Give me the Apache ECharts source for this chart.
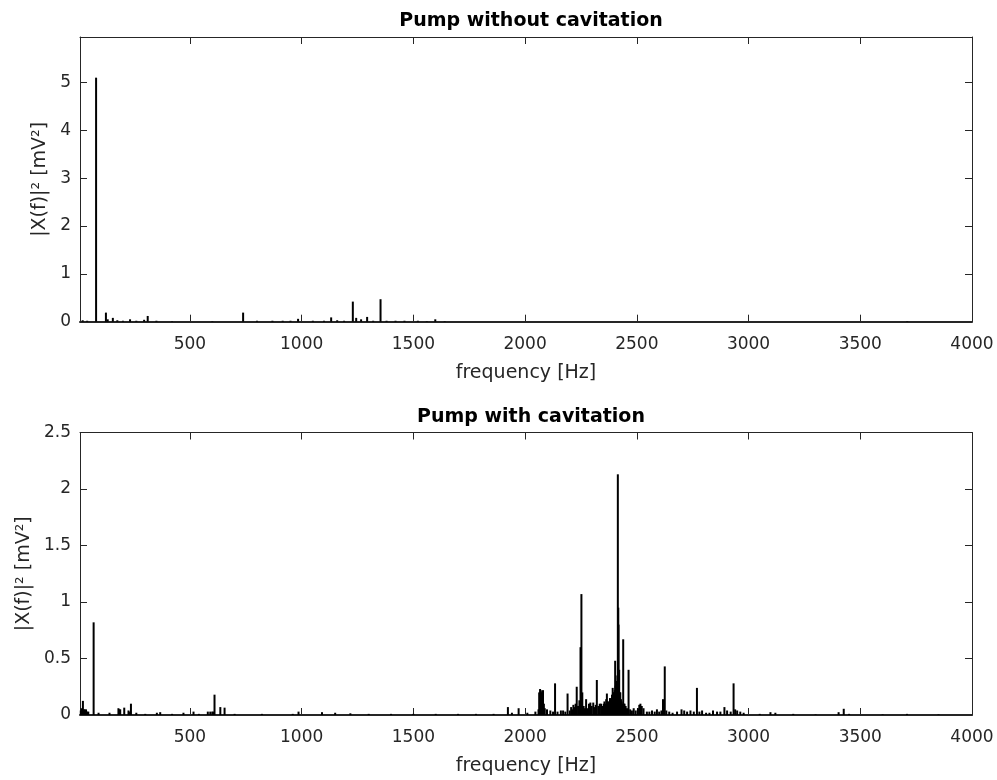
<!DOCTYPE html>
<html>
<head>
<meta charset="utf-8">
<title>Pump spectra</title>
<script src="https://cdn.jsdelivr.net/npm/echarts@6.0.0/dist/echarts.min.js"></script>
<style>
  html, body { margin: 0; padding: 0; background: #fff; }
  #box { width: 997px; height: 780px; }
</style>
</head>
<body>
<div id="box"></div>
<script>
// pump without cavitation: spike frequencies [Hz] and |X(f)|^2 [mV^2]
var freqNoCav = [20, 40, 80, 124, 132, 155, 175, 200, 232, 260, 295, 311, 350, 420,
    600, 738, 800, 869, 915, 950, 984, 1050, 1100, 1132, 1159, 1190, 1229, 1244,
    1266, 1293, 1320, 1353, 1380, 1420, 1460, 1520, 1560, 1598, 1640, 3710];
var ampNoCav = [0.03, 0.02, 5.1, 0.19, 0.05, 0.08, 0.03, 0.02, 0.05, 0.02, 0.04, 0.12, 0.02, 0.01,
    0.01, 0.19, 0.02, 0.02, 0.02, 0.02, 0.06, 0.02, 0.02, 0.09, 0.03, 0.02, 0.42, 0.08,
    0.05, 0.1, 0.02, 0.47, 0.02, 0.02, 0.02, 0.02, 0.01, 0.05, 0.01, 0.01];

// pump with cavitation
var freqCav = [10, 15, 21, 25, 28, 32, 35, 40, 45, 69, 91, 140, 180, 184, 188, 206, 225, 232, 236, 260, 300, 352, 367,
    420, 471, 516, 540, 580, 591, 600, 605, 610, 636, 655, 700, 822, 960, 986, 1091, 1150,
    1218, 1300, 1400, 1500, 1600, 1700, 1780, 1859, 1923, 1941, 1971, 2010, 2046,
    2060, 2063, 2067, 2070, 2074, 2077, 2080, 2084, 2088, 2098, 2113, 2125, 2134, 2145, 2160, 2170, 2180,
    2190, 2200, 2206, 2210, 2216, 2220, 2226, 2231, 2237, 2243, 2248, 2252, 2256, 2262, 2268,
    2273, 2280, 2286, 2292, 2298, 2305, 2312, 2316, 2321, 2328, 2334, 2340, 2344, 2348, 2352, 2355,
    2360, 2363, 2366, 2369, 2372, 2376, 2380, 2383, 2386, 2389, 2392, 2395, 2398, 2401, 2403, 2405, 2407, 2409,
    2411, 2413, 2415, 2417, 2418, 2421, 2424, 2426, 2429, 2432, 2436, 2439, 2442, 2445, 2450, 2456, 2463, 2470, 2478,
    2486, 2495, 2505, 2511, 2516, 2522, 2530, 2545, 2556, 2568, 2580, 2590, 2600, 2610, 2617, 2625, 2632,
    2645, 2660, 2680, 2700, 2712, 2725, 2740, 2755, 2769, 2780, 2792, 2810, 2825,
    2841, 2859, 2874, 2892, 2904, 2920, 2933, 2940, 2949, 2963, 2978, 3050, 3098,
    3120, 3200, 3300, 3403, 3426, 3450, 3600, 3709, 3850];
var ampCav = [0.04, 0.06, 0.125, 0.05, 0.05, 0.04, 0.05, 0.03, 0.03, 0.82, 0.02, 0.02, 0.06, 0.05, 0.05, 0.065, 0.04, 0.03, 0.1, 0.02, 0.01, 0.02, 0.025,
    0.01, 0.02, 0.03, 0.01, 0.03, 0.03, 0.03, 0.03, 0.18, 0.07, 0.065, 0.01, 0.01, 0.01, 0.03, 0.025, 0.02,
    0.015, 0.01, 0.01, 0.01, 0.01, 0.01, 0.01, 0.01, 0.07, 0.02, 0.06, 0.02, 0.03,
    0.05, 0.2, 0.23, 0.22, 0.2, 0.21, 0.22, 0.1, 0.06, 0.05, 0.04, 0.03, 0.28, 0.03, 0.04, 0.04, 0.03,
    0.19, 0.04, 0.07, 0.05, 0.09, 0.07, 0.1, 0.25, 0.08, 0.13, 0.6, 1.07, 0.2, 0.08, 0.06,
    0.14, 0.06, 0.1, 0.11, 0.08, 0.11, 0.07, 0.09, 0.31, 0.08, 0.1, 0.1, 0.06, 0.08, 0.1, 0.12,
    0.1, 0.14, 0.19, 0.12, 0.12, 0.1, 0.15, 0.13, 0.14, 0.18, 0.24, 0.2, 0.2, 0.22, 0.48, 0.26, 0.3, 0.25,
    0.3, 0.35, 2.13, 0.95, 0.8, 0.4, 0.2, 0.2, 0.14, 0.12, 0.1, 0.67, 0.1, 0.1, 0.08, 0.06, 0.4, 0.05, 0.04,
    0.06, 0.04, 0.06, 0.09, 0.1, 0.08, 0.06, 0.03, 0.03, 0.04, 0.03, 0.05, 0.03, 0.04, 0.14, 0.43, 0.04,
    0.03, 0.02, 0.03, 0.05, 0.04, 0.03, 0.04, 0.03, 0.24, 0.03, 0.04, 0.02, 0.02,
    0.04, 0.03, 0.03, 0.07, 0.04, 0.03, 0.28, 0.05, 0.04, 0.03, 0.02, 0.01, 0.025,
    0.02, 0.01, 0.005, 0.025, 0.055, 0.01, 0.005, 0.01, 0.005];

// tick labels
var freqTicks = [500, 1000, 1500, 2000, 2500, 3000, 3500, 4000];
var ampTicksNoCav = [0, 1, 2, 3, 4, 5];
var ampTicksCav = [0, 0.5, 1, 1.5, 2, 2.5];

function pairs(xs, ys) {
    var out = [];
    for (var i = 0; i < xs.length; i++) out.push([xs[i], ys[i]]);
    return out;
}

var axisColor = '#262626';
var font = 'DejaVu Sans, sans-serif';

function xAx(grid, pos, withLabel) {
    return {
        type: 'value', gridIndex: grid, position: pos, min: 8, max: 4000,
        name: withLabel ? 'frequency [Hz]' : '', nameLocation: 'middle', nameGap: 42,
        nameTextStyle: { fontSize: 19, color: axisColor, fontFamily: font },
        axisLine: { show: true, onZero: false, lineStyle: { color: axisColor, width: pos === 'bottom' ? 2 : 1 } },
        axisTick: { show: true, inside: true, length: 7, customValues: freqTicks, lineStyle: { color: axisColor } },
        axisLabel: { show: withLabel, customValues: freqTicks, margin: 14, fontSize: 17, color: axisColor, fontFamily: font,
            formatter: function (v) { return String(v); } },
        splitLine: { show: false }
    };
}

function yAx(grid, pos, max, ticks, gap) {
    var left = pos === 'left';
    return {
        type: 'value', gridIndex: grid, position: pos, min: 0, max: max,
        name: left ? '|X(f)|\u00b2 [mV\u00b2]' : '', nameLocation: 'middle', nameGap: gap,
        nameTextStyle: { fontSize: 19, color: axisColor, fontFamily: font },
        axisLine: { show: true, onZero: false, lineStyle: { color: axisColor } },
        axisTick: { show: true, inside: true, length: 7, customValues: ticks, lineStyle: { color: axisColor } },
        axisLabel: { show: left, customValues: ticks, margin: 9, fontSize: 17, color: axisColor, fontFamily: font },
        splitLine: { show: false }
    };
}

var myChart = echarts.init(document.getElementById('box'));
var option = {
    animation: false,
    backgroundColor: '#fff',
    title: [
        { text: 'Pump without cavitation', left: 526, textAlign: 'center', top: 7,
          textStyle: { fontSize: 19, fontWeight: 'bold', color: '#000', fontFamily: font } },
        { text: 'Pump with cavitation', left: 526, textAlign: 'center', top: 403,
          textStyle: { fontSize: 19, fontWeight: 'bold', color: '#000', fontFamily: font } }
    ],
    grid: [
        { left: 80, top: 37, width: 892, height: 284.7 },
        { left: 80, top: 432.5, width: 892, height: 282.5 }
    ],
    xAxis: [
        xAx(0, 'bottom', true), xAx(0, 'top', false),
        xAx(1, 'bottom', true), xAx(1, 'top', false)
    ],
    yAxis: [
        yAx(0, 'left', 5.95, ampTicksNoCav, 29), yAx(0, 'right', 5.95, ampTicksNoCav, 0),
        yAx(1, 'left', 2.5, ampTicksCav, 43), yAx(1, 'right', 2.5, ampTicksCav, 0)
    ],
    series: [
        {
            name: 'Pump without cavitation', type: 'bar', xAxisIndex: 0, yAxisIndex: 0,
            barWidth: 2, itemStyle: { color: '#000' },
            data: pairs(freqNoCav, ampNoCav)
        },
        {
            name: 'Pump with cavitation', type: 'bar', xAxisIndex: 2, yAxisIndex: 2,
            barWidth: 2, itemStyle: { color: '#000' },
            data: pairs(freqCav, ampCav)
        }
    ]
};
myChart.setOption(option, true);
</script>
</body>
</html>
